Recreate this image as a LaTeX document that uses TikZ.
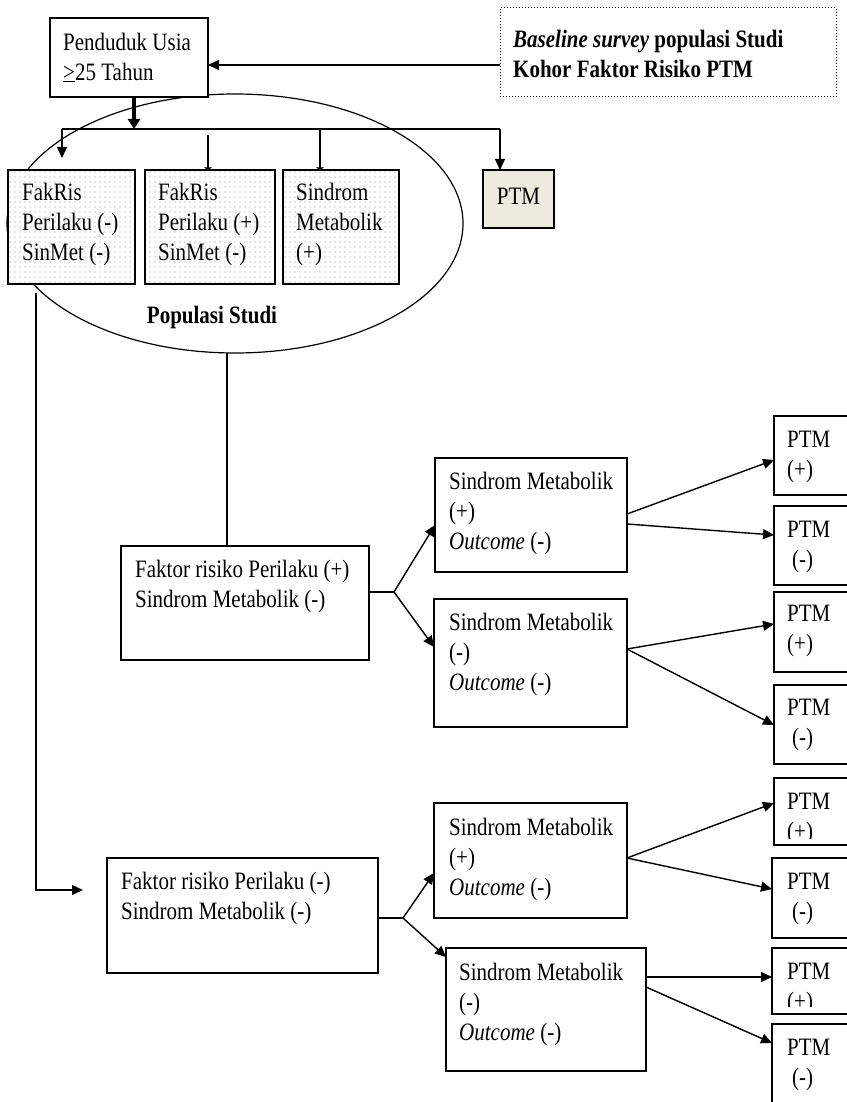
\documentclass[tikz,border=0pt]{standalone}
\usepackage{fontspec}
\setmainfont{Liberation Serif}[FakeStretch=0.84]
\usetikzlibrary{arrows.meta,patterns.meta,shapes.geometric}
\definecolor{ptmfill}{RGB}{237,235,224}
\newcommand{\fsz}{\fontsize{25}{30}\selectfont}
\begin{document}
\begin{tikzpicture}[x=1pt,y=-1pt,
  box/.style={draw, line width=1.6pt, fill=white, inner sep=0, outer sep=0, anchor=north west},
  dotbox/.style={draw, line width=1.6pt, inner sep=0, outer sep=0, anchor=north west,
     preaction={fill=white}, pattern={Dots[distance=5pt,radius=0.55pt]}, pattern color=gray!85},
  txt/.style={anchor=north west, align=left, inner sep=0, font=\fsz},
  con/.style={line width=1.4pt},
  arr/.style={con, -{Triangle[length=11pt,width=10pt]}},
  bararr/.style={con, -{Triangle[length=2.5pt,width=8pt]}}
]
\useasboundingbox (0,0) rectangle (846,1102);

% ellipse of study population
\node[draw, ellipse, line width=1.2pt, minimum width=456pt, minimum height=259pt, inner sep=0] (pop) at (235,223.5) {};
\node[font=\fsz\bfseries, inner sep=0] (poplbl) at (212,317) {Populasi Studi};

% top boxes
\node[box, minimum width=158pt, minimum height=79pt] (top) at (50,18) {};
\node[txt] (ttop) at (63,29) {\strut Penduduk Usia\\\underline{>}25 Tahun};
\node[draw, dotted, line width=1pt, fill=white, inner sep=0, outer sep=0, anchor=north west, minimum width=336pt, minimum height=89pt] (base) at (500,8) {};
\node[txt, font=\fsz\bfseries] (tbase) at (513,26) {\strut\textit{Baseline survey} populasi Studi\\Kohor Faktor Risiko PTM};

% population boxes
\node[dotbox, minimum width=127pt, minimum height=114pt] (b1) at (8,170) {};
\node[txt] (tb1) at (22,179) {\strut FakRis\\Perilaku (-)\\SinMet (-)};
\node[dotbox, minimum width=130pt, minimum height=114pt] (b2) at (145,170) {};
\node[txt] (tb2) at (158,179) {\strut FakRis\\Perilaku (+)\\SinMet (-)};
\node[dotbox, minimum width=116pt, minimum height=114pt] (b3) at (283,170) {};
\node[txt] (tb3) at (296,179) {\strut Sindrom\\Metabolik\\(+)};
\node[box, fill=ptmfill, minimum width=71pt, minimum height=58pt] (ptm0) at (483,170) {};
\node[font=\fsz, inner sep=0] (tptm0) at (518.5,196) {PTM};

% cohort boxes
\node[box, minimum width=248pt, minimum height=114pt] (frp) at (121,546) {};
\node[txt] (tfrp) at (135,556) {\strut Faktor risiko Perilaku (+)\\Sindrom Metabolik (-)};
\node[box, minimum width=192pt, minimum height=114pt] (smp1) at (435,458) {};
\node[txt] (tsmp1) at (449,468) {\strut Sindrom Metabolik\\(+)\\\textit{Outcome} (-)};
\node[box, minimum width=193pt, minimum height=128pt] (smm1) at (434,599) {};
\node[txt] (tsmm1) at (449,609) {\strut Sindrom Metabolik\\(-)\\\textit{Outcome} (-)};

\node[box, minimum width=271pt, minimum height=115pt] (frm) at (107,858) {};
\node[txt] (tfrm) at (121,868) {\strut Faktor risiko Perilaku (-)\\Sindrom Metabolik (-)};
\node[box, minimum width=193pt, minimum height=115pt] (smp2) at (434,803) {};
\node[txt] (tsmp2) at (449,814) {\strut Sindrom Metabolik\\(+)\\\textit{Outcome} (-)};
\node[box, minimum width=200pt, minimum height=123pt] (smm2) at (446,948) {};
\node[txt] (tsmm2) at (459,959) {\strut Sindrom Metabolik\\(-)\\\textit{Outcome} (-)};

% PTM outcome boxes
\node[box, minimum width=76pt, minimum height=79pt] (p1) at (774,416) {};
\node[txt] (tp1) at (787,426) {\strut PTM\\(+)};
\node[box, minimum width=76pt, minimum height=79pt] (p2) at (774,506) {};
\node[txt] (tp2) at (787,516) {\strut PTM\\\hspace*{5pt}(-)};
\node[box, minimum width=76pt, minimum height=80pt] (p3) at (774,592) {};
\node[txt] (tp3) at (787,600) {\strut PTM\\(+)};
\node[box, minimum width=76pt, minimum height=79pt] (p4) at (774,685) {};
\node[txt] (tp4) at (787,694) {\strut PTM\\\hspace*{5pt}(-)};
\node[box, minimum width=76pt, minimum height=67pt] (p5) at (774,778) {};
\begin{scope}
\clip (770,770) rectangle (850,838);
\node[txt] (tp5) at (787,788) {\strut PTM\\(+)};
\end{scope}
\node[box, minimum width=78pt, minimum height=80pt] (p6) at (772,858) {};
\node[txt] (tp6) at (787,868) {\strut PTM\\\hspace*{5pt}(-)};
\node[box, minimum width=78pt, minimum height=66pt] (p7) at (772,948) {};
\begin{scope}
\clip (770,940) rectangle (850,1006);
\node[txt] (tp7) at (787,958) {\strut PTM\\(+)};
\end{scope}
\node[box, minimum width=78pt, minimum height=90pt] (p8) at (772,1024) {};
\node[txt] (tp8) at (787,1034) {\strut PTM\\\hspace*{5pt}(-)};

% top connectors
\coordinate (yA) at (0,65);
\draw[arr] (base.west |- yA) -- (top.east |- yA);
\coordinate (j0) at (134,129);
\draw[line width=3.2pt, -{Triangle[length=10pt,width=12pt]}] (top.south -| j0) -- (j0);
\coordinate (hl) at (62,129);
\coordinate (hr) at (500,129);
\draw[con] (hl) -- (hr);
\draw[arr, shorten >=12pt] (hl) -- (hl |- b1.north);
\coordinate (m2) at (208,135);
\draw[bararr] (m2) -- (m2 |- b2.north);
\coordinate (m3) at (320,129);
\draw[bararr] (m3) -- (m3 |- b3.north);
\draw[arr] (hr) -- (hr |- ptm0.north);

% population to cohorts
\coordinate (pb) at (227,353);
\draw[con] (pb) -- (pb |- frp.north);
\coordinate (lt) at (36,293);
\coordinate (lb) at (83,890);
\draw[arr] (lt) |- (lb);

% FR+ branch
\coordinate (jp) at (394,592);
\draw[con] (frp.east |- jp) -- (jp);
\draw[arr] (jp) -- (smp1.west |- 0,525);
\draw[arr] (jp) -- (smm1.west |- 0,647);
\draw[arr] (smp1.east |- 0,514) -- (p1.west |- 0,460);
\draw[arr] (smp1.east |- 0,524) -- (p2.west |- 0,535);
\draw[arr] (smm1.east |- 0,649) -- (p3.west |- 0,624);
\draw[arr] (smm1.east |- 0,649) -- (p4.west |- 0,725);

% FR- branch
\coordinate (jm) at (403,918);
\draw[con] (frm.east |- jm) -- (jm);
\draw[arr] (jm) -- (smp2.west |- 0,873);
\draw[arr] (jm) -- (smm2.west |- 0,957);
\draw[arr] (smp2.east |- 0,858) -- (p5.west |- 0,803);
\draw[arr] (smp2.east |- 0,858) -- (p6.west |- 0,889);
\draw[arr] (smm2.east |- 0,977) -- (p7.west |- 0,977);
\draw[arr] (smm2.east |- 0,987) -- (p8.west |- 0,1043);
\end{tikzpicture}
\end{document}
